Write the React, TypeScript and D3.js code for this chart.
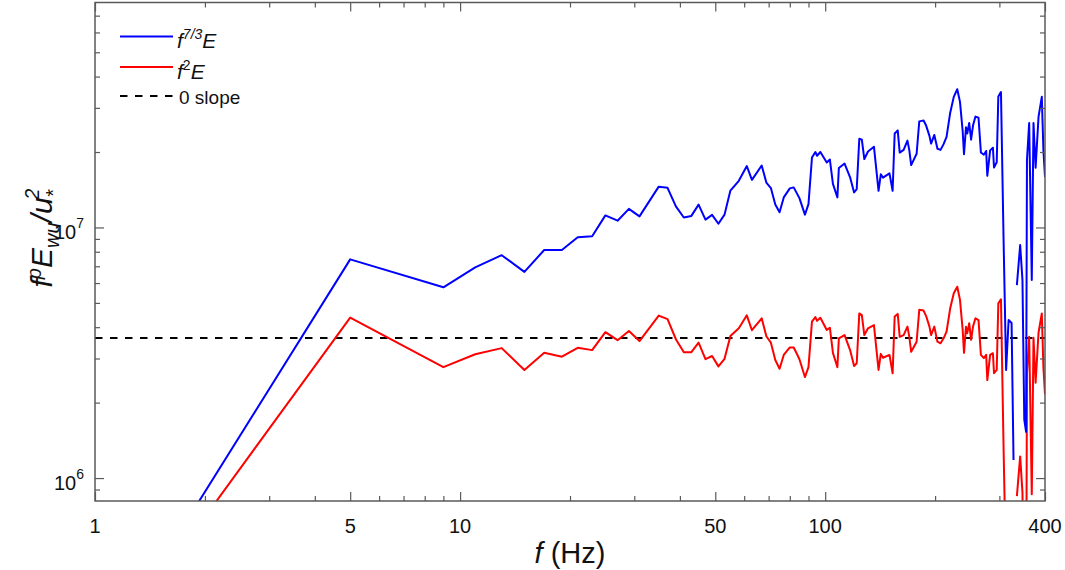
import * as React from "react"
import * as d3 from "d3"

// frequency (Hz) of each sample
const freq = [
  1, 5, 9, 11, 13, 15, 17, 19, 21, 23,
  25, 27, 29, 31, 35, 37, 39, 41, 43, 45,
  47, 49, 51, 53, 55, 58, 61, 63, 67, 69,
  71, 73, 75, 77, 80, 82, 84, 85, 88, 90,
  92, 94, 95, 97, 101, 103, 105, 108, 109, 113,
  117, 120, 122, 124, 126, 128, 131, 136, 140, 142,
  144, 150, 153, 155, 158, 160, 164, 168, 170, 172,
  178, 181, 186, 189, 193, 195, 199, 203, 207, 211,
  215, 220, 225, 230, 234, 238, 240, 243, 245, 248,
  251, 254, 258, 263, 267, 272, 276, 278, 283, 288,
  290, 295, 298, 303, 308, 313, 318, 324, 328, 331,
  335, 342, 347, 351, 355, 357, 362, 368, 372, 377,
  384, 392, 396, 400,
]

// f^{7/3} E
const blueVals: (number | null)[] = [
  1.75e5, 7.46e6, 5.77e6, 6.93e6, 7.75e6, 6.65e6, 8.13e6, 8.13e6, 9.14e6, 9.23e6,
  1.117e7, 1.064e7, 1.186e7, 1.107e7, 1.455e7, 1.439e7, 1.213e7, 1.096e7, 1.112e7, 1.233e7,
  1.074e7, 1.122e7, 1.035e7, 1.125e7, 1.403e7, 1.535e7, 1.758e7, 1.549e7, 1.766e7, 1.51e7,
  1.436e7, 1.236e7, 1.151e7, 1.318e7, 1.432e7, 1.445e7, 1.352e7, 1.309e7, 1.125e7, 1.239e7,
  1.901e7, 2.0e7, 1.932e7, 2.0e7, 1.816e7, 1.866e7, 1.493e7, 1.318e7, 1.726e7, 1.799e7,
  1.585e7, 1.38e7, 1.422e7, 2.26e7, 2.24e7, 1.875e7, 2.01e7, 2.1e7, 1.4e7, 1.629e7,
  1.581e7, 1.644e7, 1.4e7, 2.37e7, 2.44e7, 1.99e7, 2.04e7, 2.22e7, 2.03e7, 1.774e7,
  1.968e7, 2.65e7, 2.67e7, 2.55e7, 2.32e7, 2.16e7, 2.34e7, 2.06e7, 2.04e7, 2.15e7,
  2.3e7, 2.87e7, 3.32e7, 3.56e7, 3.17e7, 2.42e7, 1.96e7, 2.51e7, 2.37e7, 2.61e7,
  2.24e7, 2.55e7, 2.77e7, 2.74e7, 1.99e7, 1.95e7, 2.02e7, 1.607e7, 2.03e7, 2.08e7,
  1.734e7, 1.82e7, 3.33e7, 3.47e7, 9.0e6, 2.7e6, 4.27e6, 4.16e6, 1.18e6, null,
  5.89e6, 8.51e6, 6.17e6, 1.71e6, 1.53e6, 1.86e7, 2.61e7, 6.17e6, 2.61e7, 1.73e7,
  2.76e7, 3.32e7, 2.04e7, 1.59e7,
]

// f^2 E
const redVals: (number | null)[] = [
  1.75e5, 4.37e6, 2.77e6, 3.12e6, 3.3e6, 2.7e6, 3.16e6, 3.05e6, 3.31e6, 3.24e6,
  3.82e6, 3.55e6, 3.86e6, 3.52e6, 4.45e6, 4.31e6, 3.58e6, 3.18e6, 3.18e6, 3.47e6,
  2.98e6, 3.07e6, 2.79e6, 2.99e6, 3.69e6, 3.96e6, 4.46e6, 3.89e6, 4.34e6, 3.68e6,
  3.47e6, 2.96e6, 2.73e6, 3.1e6, 3.32e6, 3.32e6, 3.09e6, 2.98e6, 2.53e6, 2.77e6,
  4.21e6, 4.39e6, 4.24e6, 4.36e6, 3.9e6, 3.98e6, 3.16e6, 2.77e6, 3.61e6, 3.72e6,
  3.24e6, 2.8e6, 2.87e6, 4.54e6, 4.47e6, 3.72e6, 3.96e6, 4.08e6, 2.7e6, 3.13e6,
  3.02e6, 3.1e6, 2.62e6, 4.41e6, 4.52e6, 3.66e6, 3.72e6, 4.02e6, 3.66e6, 3.19e6,
  3.5e6, 4.69e6, 4.66e6, 4.43e6, 4.02e6, 3.72e6, 4.02e6, 3.5e6, 3.45e6, 3.61e6,
  3.84e6, 4.76e6, 5.46e6, 5.8e6, 5.14e6, 3.9e6, 3.16e6, 4.02e6, 3.78e6, 4.15e6,
  3.56e6, 4.02e6, 4.34e6, 4.27e6, 3.1e6, 3.01e6, 3.1e6, 2.46e6, 3.1e6, 3.15e6,
  2.62e6, 2.7e6, 4.98e6, 5.17e6, 1.33e6, 3.97e5, 6.27e5, 6.07e5, 1.71e5, null,
  8.47e5, 1.22e6, 8.77e5, 2.42e5, 2.16e5, 2.62e6, 3.66e6, 8.61e5, 3.63e6, 2.4e6,
  3.8e6, 4.54e6, 2.77e6, 2.16e6,
]

const zeroSlope = 3.62e6

const xDomain = [1, 400]
const yDomain = [8.1e5, 7.9e7]
const xMajorTicks = [1, 5, 10, 50, 100, 400]
const xMinorTicks = [2, 3, 4, 6, 7, 8, 9, 20, 30, 40, 60, 70, 80, 90, 200, 300]
const yMajorTicks = [1e6, 1e7]
const yMinorTicks = [
  9e5, 2e6, 3e6, 4e6, 5e6, 6e6, 7e6, 8e6, 9e6, 2e7, 3e7, 4e7, 5e7, 6e7, 7e7,
]

const W = 1065
const H = 570
const FONT = "'Liberation Sans', Arial, Helvetica, sans-serif"
const AXIS_COLOR = "#5a5a5a"

function render(svgRef: React.RefObject<SVGSVGElement>) {
  const margin = { top: 2.5, right: 20, bottom: 69, left: 95 }
  const x0 = margin.left
  const x1 = W - margin.right
  const y0 = H - margin.bottom
  const y1 = margin.top

  const svg = d3.select(svgRef.current)
  svg.selectAll("*").remove()
  svg.attr("width", W).attr("height", H)

  const xScale = d3.scaleLog().domain(xDomain).range([x0, x1])
  const yScale = d3.scaleLog().domain(yDomain).range([y0, y1])

  svg
    .append("defs")
    .append("clipPath")
    .attr("id", "plotClip")
    .append("rect")
    .attr("x", x0)
    .attr("y", y1)
    .attr("width", x1 - x0)
    .attr("height", y0 - y1)

  const plot = svg.append("g").attr("clip-path", "url(#plotClip)")

  // zero slope reference
  plot
    .append("line")
    .attr("x1", xScale(xDomain[0]))
    .attr("x2", xScale(xDomain[1]))
    .attr("y1", yScale(zeroSlope))
    .attr("y2", yScale(zeroSlope))
    .attr("stroke", "#000")
    .attr("stroke-width", 2)
    .attr("stroke-dasharray", "7.5,7.5")

  const idx = d3.range(freq.length)
  const mkLine = (vals: (number | null)[]) =>
    d3
      .line<number>()
      .defined((i) => vals[i] != null && (vals[i] as number) > 0)
      .x((i) => xScale(freq[i]))
      .y((i) => yScale(vals[i] as number))

  plot
    .append("path")
    .attr("d", mkLine(redVals)(idx))
    .attr("fill", "none")
    .attr("stroke", "#ff0000")
    .attr("stroke-width", 2)
    .attr("stroke-linejoin", "round")

  plot
    .append("path")
    .attr("d", mkLine(blueVals)(idx))
    .attr("fill", "none")
    .attr("stroke", "#0000ff")
    .attr("stroke-width", 2)
    .attr("stroke-linejoin", "round")

  // axes (ticks point inward, mirrored on top/right)
  const axes = svg.append("g")
  const styleAxis = (g: d3.Selection<SVGGElement, unknown, null, undefined>) => {
    g.select(".domain").remove()
    g.selectAll(".tick line").attr("stroke", AXIS_COLOR).attr("stroke-width", 1.2)
    g.selectAll(".tick text").remove()
  }

  axes
    .append("g")
    .attr("transform", `translate(0,${y0})`)
    .call(d3.axisBottom(xScale).tickValues(xMajorTicks).tickSizeInner(-9).tickSizeOuter(0))
    .call(styleAxis)
  axes
    .append("g")
    .attr("transform", `translate(0,${y0})`)
    .call(d3.axisBottom(xScale).tickValues(xMinorTicks).tickSizeInner(-5).tickSizeOuter(0))
    .call(styleAxis)
  axes
    .append("g")
    .attr("transform", `translate(0,${y1})`)
    .call(d3.axisTop(xScale).tickValues(xMajorTicks).tickSizeInner(-9).tickSizeOuter(0))
    .call(styleAxis)
  axes
    .append("g")
    .attr("transform", `translate(0,${y1})`)
    .call(d3.axisTop(xScale).tickValues(xMinorTicks).tickSizeInner(-5).tickSizeOuter(0))
    .call(styleAxis)
  axes
    .append("g")
    .attr("transform", `translate(${x0},0)`)
    .call(d3.axisLeft(yScale).tickValues(yMajorTicks).tickSizeInner(-9).tickSizeOuter(0))
    .call(styleAxis)
  axes
    .append("g")
    .attr("transform", `translate(${x0},0)`)
    .call(d3.axisLeft(yScale).tickValues(yMinorTicks).tickSizeInner(-5).tickSizeOuter(0))
    .call(styleAxis)
  axes
    .append("g")
    .attr("transform", `translate(${x1},0)`)
    .call(d3.axisRight(yScale).tickValues(yMajorTicks).tickSizeInner(-9).tickSizeOuter(0))
    .call(styleAxis)
  axes
    .append("g")
    .attr("transform", `translate(${x1},0)`)
    .call(d3.axisRight(yScale).tickValues(yMinorTicks).tickSizeInner(-5).tickSizeOuter(0))
    .call(styleAxis)

  // frame
  axes
    .append("rect")
    .attr("x", x0)
    .attr("y", y1)
    .attr("width", x1 - x0)
    .attr("height", y0 - y1)
    .attr("fill", "none")
    .attr("stroke", AXIS_COLOR)
    .attr("stroke-width", 1.5)

  // x tick labels
  svg
    .append("g")
    .selectAll("text")
    .data(xMajorTicks)
    .join("text")
    .attr("x", (d) => xScale(d))
    .attr("y", y0 + 32)
    .attr("text-anchor", "middle")
    .attr("font-family", FONT)
    .attr("font-size", 20)
    .attr("fill", "#111")
    .text((d) => String(d))

  // y tick labels 10^n
  const yl = svg
    .append("g")
    .selectAll("text")
    .data(yMajorTicks)
    .join("text")
    .attr("x", x0 - 11)
    .attr("y", (d) => yScale(d) + 12)
    .attr("text-anchor", "end")
    .attr("font-family", FONT)
    .attr("font-size", 20)
    .attr("fill", "#111")
  yl.append("tspan").text("10")
  yl.append("tspan")
    .attr("dy", -11)
    .attr("font-size", 14)
    .text((d) => String(Math.round(Math.log10(d))))

  // x label
  const xl = svg
    .append("text")
    .attr("x", (x0 + x1) / 2)
    .attr("y", 563)
    .attr("text-anchor", "middle")
    .attr("font-family", FONT)
    .attr("font-size", 29)
    .attr("fill", "#111")
  xl.append("tspan").attr("font-style", "italic").text("f")
  xl.append("tspan").text(" (Hz)")

  // y label
  const ylab = svg
    .append("text")
    .attr("transform", `translate(52,238) rotate(-90)`)
    .attr("text-anchor", "middle")
    .attr("font-family", FONT)
    .attr("font-size", 30)
    .attr("font-style", "italic")
    .attr("fill", "#111")
  ylab.append("tspan").text("f")
  ylab.append("tspan").attr("dy", -11).attr("font-size", 20).text("p")
  ylab.append("tspan").attr("dy", 11).text("E")
  ylab.append("tspan").attr("dy", 7).attr("font-size", 20).text("wu")
  ylab.append("tspan").attr("dy", -7).text("/u")
  ylab.append("tspan").attr("dy", 8).attr("font-size", 20).text("*")
  ylab.append("tspan").attr("dx", -10).attr("dy", -21).attr("font-size", 20).text("2")

  // legend
  const legend = svg.append("g").attr("font-family", FONT).attr("fill", "#111")
  const items = [
    { color: "#0000ff", dash: null, y: 36.5 },
    { color: "#ff0000", dash: null, y: 67 },
    { color: "#000", dash: "7.5,7.5", y: 96 },
  ]
  items.forEach((it) => {
    legend
      .append("line")
      .attr("x1", 120)
      .attr("x2", 173)
      .attr("y1", it.y)
      .attr("y2", it.y)
      .attr("stroke", it.color)
      .attr("stroke-width", 2)
      .attr("stroke-dasharray", it.dash)
  })
  const t1 = legend.append("text").attr("x", 177).attr("y", 48).attr("font-size", 21)
  t1.append("tspan").attr("font-style", "italic").text("f")
  t1.append("tspan").attr("dy", -9).attr("font-size", 14).attr("font-style", "italic").text("7/3")
  t1.append("tspan").attr("dy", 9).attr("font-style", "italic").text("E")
  const t2 = legend.append("text").attr("x", 177).attr("y", 79).attr("font-size", 21)
  t2.append("tspan").attr("font-style", "italic").text("f")
  t2.append("tspan").attr("dy", -9).attr("font-size", 14).text("2")
  t2.append("tspan").attr("dy", 9).attr("font-style", "italic").text("E")
  legend.append("text").attr("x", 179).attr("y", 104).attr("font-size", 19).text("0 slope")
}

export default function App(): React.JSX.Element {
  const svg = React.useRef<SVGSVGElement>(null)

  React.useEffect(() => {
    render(svg)
  }, [])

  return (
    <div style={{ position: "absolute", left: 0, top: 0, width: W, height: H, background: "#fff" }}>
      <svg ref={svg}></svg>
    </div>
  )
}
